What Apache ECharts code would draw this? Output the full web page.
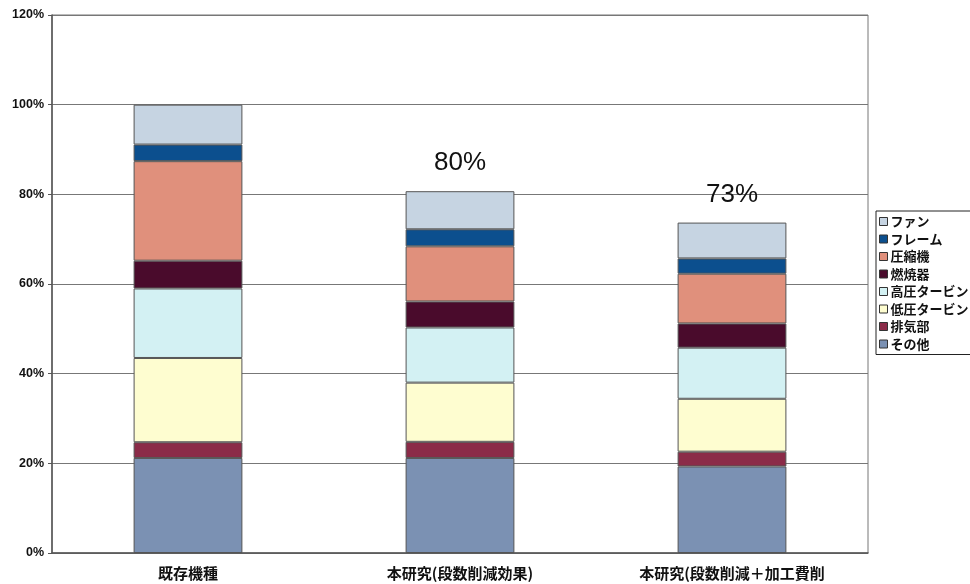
<!DOCTYPE html>
<html>
<head>
<meta charset="utf-8">
<script src="https://cdn.jsdelivr.net/npm/echarts@6/dist/echarts.min.js"></script>
<style>html,body{margin:0;padding:0;background:#fff;}#c{width:970px;height:584px;}</style>
</head>
<body>
<div id="c"></div>
<script>
const categories = ['既存機種', '本研究(段数削減効果)', '本研究(段数削減＋加工費削'];
const seriesNames = ['その他', '排気部', '低圧タービン', '高圧タービン', '燃焼器', '圧縮機', 'フレーム', 'ファン'];
const sonota   = [21.2, 21.2, 19.3];
const haiki    = [3.5, 3.6, 3.3];
const teiatsu  = [18.8, 13.2, 11.8];
const kouatsu  = [15.5, 12.3, 11.4];
const nenshou  = [6.2, 5.8, 5.4];
const asshuku  = [22.2, 12.3, 11.1];
const frame    = [3.7, 3.8, 3.4];
const fan      = [8.9, 8.5, 8.0];
const totalLabels = ['', '80%', '73%'];
const yTicks = [0, 20, 40, 60, 80, 100, 120];

const values = [sonota, haiki, teiatsu, kouatsu, nenshou, asshuku, frame, fan];
const colors = ['#7b91b3', '#8b2b48', '#fefdd0', '#d3f1f3', '#4a0b2c', '#e0907c', '#0c4f8e', '#c6d4e2'];

const series = seriesNames.map((name, i) => {
  const s = {
    name: name,
    type: 'bar',
    stack: 'total',
    barWidth: '40%',
    data: values[i],
    itemStyle: { color: colors[i], borderColor: '#555', borderWidth: 1 },
    emphasis: { disabled: true }
  };
  if (i === seriesNames.length - 1) {
    s.label = {
      show: true,
      position: 'top',
      distance: 15,
      formatter: p => totalLabels[p.dataIndex],
      fontFamily: 'Liberation Sans, Arial, sans-serif',
      fontSize: 26,
      color: '#111'
    };
  }
  return s;
});

const chart = echarts.init(document.getElementById('c'), null, { renderer: 'canvas' });
chart.setOption({
  animation: false,
  backgroundColor: '#fff',
  grid: { left: 52, right: 102, top: 15, bottom: 31, show: true, borderColor: '#777', borderWidth: 1, containLabel: false },
  legend: {
    orient: 'vertical',
    left: 876,
    top: 211,
    data: seriesNames.slice().reverse(),
    itemWidth: 8,
    itemHeight: 8,
    itemGap: 4.5,
    icon: 'rect',
    padding: [4, 40, 4, 3],
    borderColor: '#222',
    borderWidth: 1,
    itemStyle: { borderColor: '#333', borderWidth: 1 },
    textStyle: { fontFamily: 'Noto Sans CJK JP', fontWeight: 'bold', fontSize: 13, color: '#111', padding: [0, 0, 0, -2] }
  },
  xAxis: {
    type: 'category',
    data: categories,
    axisLine: { lineStyle: { color: '#555', width: 1.5 } },
    axisTick: { show: false },
    axisLabel: { fontFamily: 'Noto Sans CJK JP', fontWeight: 'bold', fontSize: 15, color: '#111', margin: 13, interval: 0 }
  },
  yAxis: {
    type: 'value',
    min: 0,
    max: 120,
    interval: 20,
    axisLine: { show: true, lineStyle: { color: '#555', width: 1.5 } },
    axisTick: { show: true, length: 4, inside: false, lineStyle: { color: '#555' } },
    splitLine: { lineStyle: { color: '#777', width: 1 } },
    axisLabel: {
      formatter: v => yTicks.includes(v) ? v + '%' : '',
      fontFamily: 'Liberation Sans, Arial, sans-serif',
      fontWeight: 'bold',
      fontSize: 12.5,
      color: '#111',
      margin: 8
    }
  },
  series: series
});
</script>
</body>
</html>
